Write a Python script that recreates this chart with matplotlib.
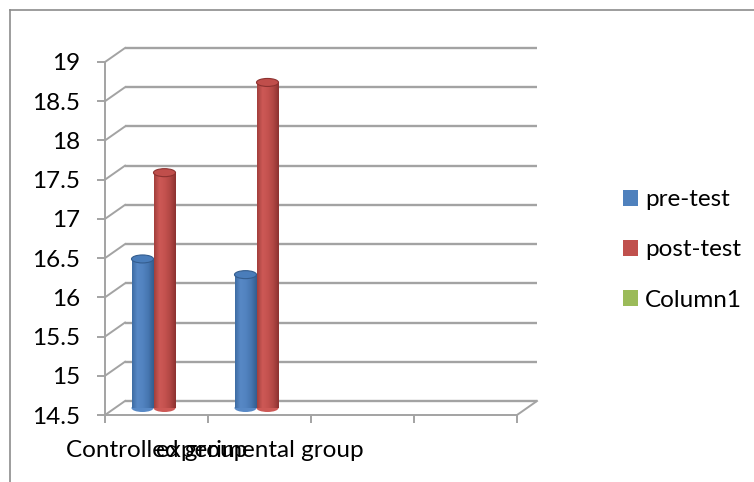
import numpy as np
import matplotlib
matplotlib.use("Agg")
import matplotlib.pyplot as plt
from matplotlib.colors import LinearSegmentedColormap
from matplotlib.patches import Ellipse, Patch
from matplotlib.lines import Line2D

# data
categories = ["Controlled group", "experimental group", "", ""]
pre_test = [16.4, 16.2]
post_test = [17.5, 18.65]
column1 = []  # empty series, legend only
series_names = ["pre-test", "post-test", "Column1"]
yticks = [14.5, 15, 15.5, 16, 16.5, 17, 17.5, 18, 18.5, 19]

plt.rcParams["font.family"] = ["Lato", "DejaVu Sans"]
fs = 17.5

W, H = 754, 482
fig = plt.figure(figsize=(W / 100, H / 100), dpi=100)

# front plane of the plot: x 105..517 px, y 62..415 px
ax = fig.add_axes([105 / W, (H - 415) / H, 412 / W, (415 - 62) / H])
ymin, ymax = 14.5, 19
ax.set_xlim(0, len(categories))
ax.set_ylim(ymin, ymax)

px_x = len(categories) / 412
px_y = (ymax - ymin) / (415 - 62)
dx, dy = 20 * px_x, 14 * px_y  # depth offset of the back wall

grid_c = "#A3A3A3"
# back wall gridlines + left wall diagonals
for v in yticks:
    ax.plot([dx, len(categories) + dx], [v + dy, v + dy], color=grid_c, lw=1.7,
            clip_on=False, zorder=1, solid_capstyle="butt")
    ax.plot([0, dx], [v, v + dy], color=grid_c, lw=1.4, clip_on=False, zorder=1)
# floor edge
ax.plot([len(categories), len(categories) + dx], [ymin, ymin + dy], color=grid_c,
        lw=1.4, clip_on=False, zorder=1)

blue, red, green = "#4F81BD", "#C0504D", "#9BBB59"


def cylinder(x, value, width, colors, cap):
    base = ymin + 7 * px_y
    top = value + 7 * px_y
    eh = 8 * px_y
    ax.add_patch(Ellipse((x, base), width, eh, facecolor=colors[1], edgecolor="none",
                         zorder=3))
    rect = ax.bar(x, top - base, width, bottom=base, color="none", zorder=3)[0]
    cmap = LinearSegmentedColormap.from_list("c", colors)
    img = ax.imshow(np.linspace(0, 1, 100).reshape(1, -1), cmap=cmap, aspect="auto",
                    extent=(x - width / 2, x + width / 2, base, top), zorder=4,
                    interpolation="bilinear")
    img.set_clip_path(rect)
    ax.add_patch(Ellipse((x, top), width, eh, facecolor=cap, edgecolor=colors[-1],
                         lw=0.8, zorder=5))


bw = 22 * px_x
blue_shade = ["#3E6CA3", "#5889C6", "#5283C0", "#4676B0", "#345D8E"]
red_shade = ["#A23F3C", "#CD5956", "#C4524F", "#B04643", "#8C3230"]
for i in range(len(pre_test)):
    c = i + 0.5 - 3 * px_x
    cylinder(c - bw / 2, pre_test[i], bw, blue_shade, "#4A7DBA")
    cylinder(c + bw / 2, post_test[i], bw, red_shade, "#C04E4B")

ax.set_xlim(0, len(categories))
ax.set_ylim(ymin, ymax)

for s in ["top", "right"]:
    ax.spines[s].set_visible(False)
for s in ["left", "bottom"]:
    ax.spines[s].set_color(grid_c)
    ax.spines[s].set_linewidth(1.4)

ax.set_yticks(yticks)
ax.set_yticklabels([f"{v:g}" for v in yticks], fontsize=fs)
ax.set_xticks(range(len(categories) + 1))
ax.set_xticklabels([])
ax.set_xticks([i + 0.5 for i in range(len(categories))], minor=True)
ax.set_xticklabels(categories, minor=True, fontsize=fs)
ax.tick_params(axis="y", length=6, width=1.4, color=grid_c, pad=12)
ax.tick_params(axis="x", which="major", length=6, width=1.4, color=grid_c)
ax.tick_params(axis="x", which="minor", length=0, pad=18)
ax.patch.set_visible(False)

handles = [Patch(facecolor=c, edgecolor="none") for c in (blue, red, green)]
fig.legend(handles, series_names, loc="center left", bbox_to_anchor=(601 / W, 1 - 250 / H),
           frameon=False, fontsize=fs, handlelength=0.62, handleheight=0.62,
           handletextpad=0.3, labelspacing=1.2)

# chart area border (cropped at right and bottom)
fig.add_artist(Line2D([10 / W, 1], [1 - 10 / H] * 2, color="#8C8C8C", lw=1.2))
fig.add_artist(Line2D([10 / W] * 2, [0, 1 - 10 / H], color="#8C8C8C", lw=1.2))

fig.savefig("out.png", dpi=100)
